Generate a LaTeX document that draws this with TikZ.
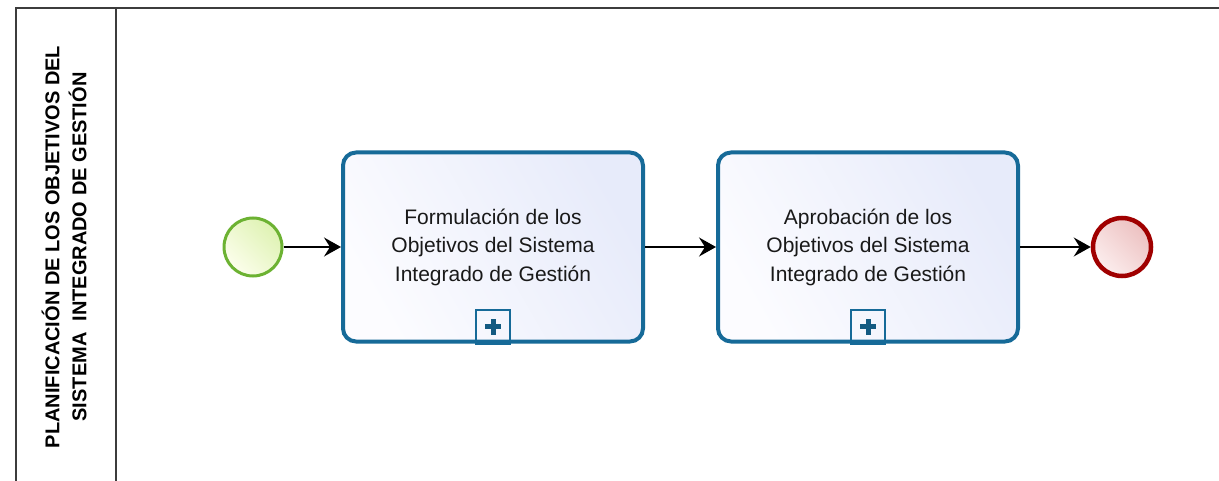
\documentclass[tikz,border=0pt]{standalone}
\usepackage{fontspec}
\setmainfont{Liberation Sans}
\usetikzlibrary{arrows.meta,shadings}
\definecolor{poolgray}{RGB}{60,60,60}
\definecolor{taskblue}{RGB}{22,106,152}
\definecolor{taskfillA}{RGB}{252,252,255}
\definecolor{taskfillB}{RGB}{231,235,250}
\definecolor{startgreen}{RGB}{108,178,50}
\definecolor{startfillA}{RGB}{252,254,236}
\definecolor{startfillB}{RGB}{222,242,178}
\definecolor{endred}{RGB}{160,0,0}
\definecolor{endfillA}{RGB}{252,238,238}
\definecolor{endfillB}{RGB}{236,192,192}
\definecolor{txtgray}{RGB}{25,25,25}
\tikzset{
  pool/.style={draw=poolgray,line width=2.4pt},
  startev/.style={circle,draw=startgreen,line width=3pt,minimum size=58pt,inner sep=0pt,
    left color=startfillA,right color=startfillB,shading angle=135},
  endev/.style={circle,draw=endred,line width=4.5pt,minimum size=58pt,inner sep=0pt,
    left color=endfillA,right color=endfillB,shading angle=135},
  subproc/.style={rectangle,rounded corners=13pt,draw=taskblue,line width=4pt,
    minimum width=300pt,minimum height=189pt,inner sep=0pt,align=center,
    left color=taskfillA,right color=taskfillB,shading angle=120,
    text=txtgray,font=\fontsize{21}{28.5}\selectfont},
  markbox/.style={rectangle,draw=taskblue,line width=2.5pt,minimum width=34pt,
    minimum height=33pt,inner sep=0pt,anchor=south},
  plusbar/.style={draw=taskblue!85!black,line width=5pt},
  flow/.style={draw=black,line width=1.6pt,-{Stealth[length=17pt,width=19pt,inset=6pt]}},
  lanelabel/.style={rotate=90,align=center,text=black,
    font=\bfseries\fontsize{20}{27}\selectfont}
}
\begin{document}
\begin{tikzpicture}[x=1pt,y=-1pt]
\useasboundingbox (0,0) rectangle (1219,481);
% pool and lane
\coordinate (pbl) at (16,485);
\coordinate (ptl) at (16,8);
\coordinate (ptr) at (1225,8);
\coordinate (dtop) at (116,8);
\coordinate (dbot) at (116,485);
\draw[pool] (pbl) -- (ptl) -- (ptr);
\draw[pool] (dtop) -- (dbot);
\node[lanelabel] (lane) at (64,247) {PLANIFICACIÓN DE LOS OBJETIVOS DEL\\SISTEMA\ \ INTEGRADO DE GESTIÓN};
% events and tasks
\node[startev] (start) at (253,247) {};
\node[subproc] (t1) at (493,247) {Formulación de los\\Objetivos del Sistema\\Integrado de Gestión};
\node[subproc] (t2) at (868,247) {Aprobación de los\\Objetivos del Sistema\\Integrado de Gestión};
\node[endev] (end) at (1122,247) {};
% subprocess markers
\node[markbox] (m1) at ([yshift=-1pt]t1.south) {};
\node[markbox] (m2) at ([yshift=-1pt]t2.south) {};
\foreach \m in {m1,m2}{
  \draw[plusbar] ([xshift=-8pt]\m.center) -- ([xshift=8pt]\m.center);
  \draw[plusbar] ([yshift=-8pt]\m.center) -- ([yshift=8pt]\m.center);
}
% flows
\draw[flow] (start) -- (t1);
\draw[flow] (t1) -- (t2);
\draw[flow] (t2) -- (end);
\end{tikzpicture}
\end{document}
